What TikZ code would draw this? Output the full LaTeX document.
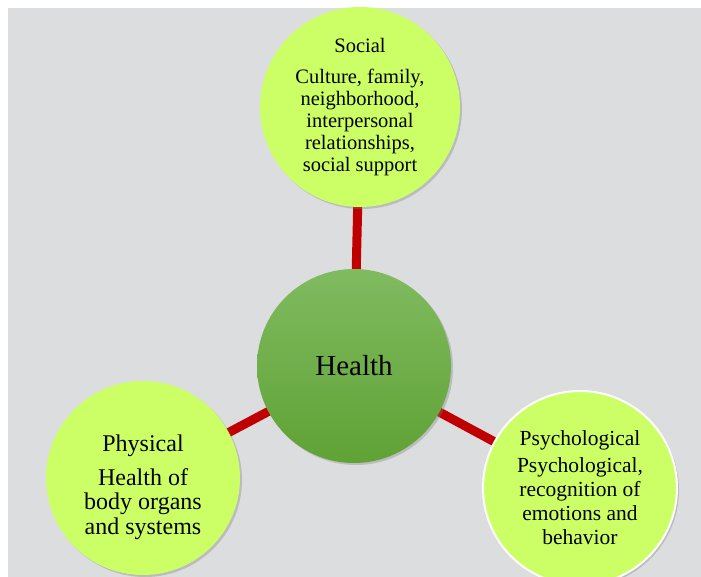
\documentclass[tikz,border=0pt]{standalone}
\usepackage{fontspec}
\setmainfont{Liberation Serif}
\usetikzlibrary{shadows,backgrounds}
\definecolor{panelgrey}{HTML}{DCDDDF}
\definecolor{limefill}{HTML}{CCFF66}
\definecolor{hubtop}{HTML}{80BB60}
\definecolor{hubbot}{HTML}{5FA235}
\definecolor{spokered}{HTML}{C00000}

\begin{document}
\begin{tikzpicture}[
    x=1pt, y=-1pt,
    bubble/.style={circle, fill=limefill, inner sep=0pt, minimum size=194pt, align=center, text=black,
      drop shadow={opacity=0.35, shadow xshift=2pt, shadow yshift=-2pt}},
    hub/.style={bubble, fill=none, top color=hubtop, bottom color=hubbot, font=\fontsize{29}{30}\selectfont},
    spoke/.style={draw=spokered, line width=9pt}
  ]
    \useasboundingbox (0,0) rectangle (701,577);
    \node[hub] (health) at (354,366) {Health};
    \node[bubble, minimum size=200pt, font=\fontsize{20.5}{22}\selectfont] (social) at (360,107)
      {Social\\[9pt]Culture, family,\\neighborhood,\\interpersonal\\relationships,\\social support};
    \node[bubble, font=\fontsize{24}{24.5}\selectfont] (physical) at (143,478)
      {\rule{0pt}{35pt}Physical\\[9pt]Health of\\body organs\\and systems};
    \node[bubble, draw=white, line width=2pt, font=\fontsize{21.5}{24}\selectfont] (psych) at (580,488)
      {Psychological\\[3pt]Psychological,\\recognition of\\emotions and\\behavior};
    \begin{scope}[on background layer]
      \fill[panelgrey] (8,8) rectangle (701,577);
      \draw[spoke] (social.center) -- (health.center);
      \draw[spoke] (physical.center) -- (health.center);
      \draw[spoke] (health.center) -- (psych.center);
    \end{scope}
  \end{tikzpicture}
\end{document}
